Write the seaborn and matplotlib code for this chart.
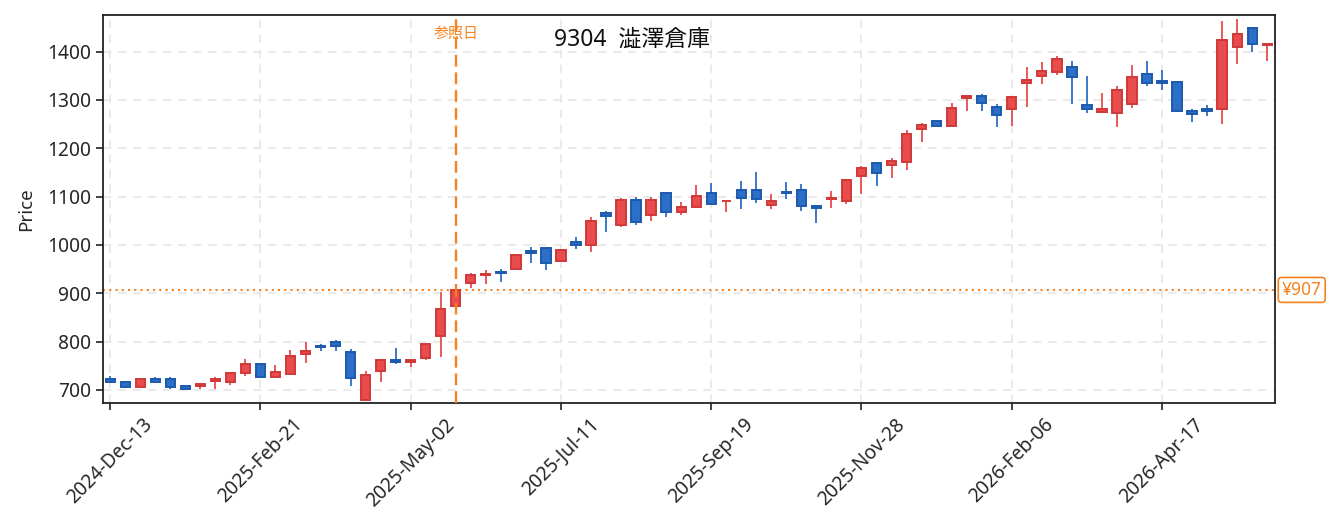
import numpy as np
import pandas as pd
import matplotlib
matplotlib.use("Agg")
import matplotlib.pyplot as plt
import matplotlib.transforms as mtransforms
import seaborn as sns

sns.set_style("ticks")
plt.rcParams['font.family'] = ['Noto Sans', 'Noto Sans CJK JP', 'DejaVu Sans']

# weekly candles, starting 2024-12-13
start_date = "2024-12-13"
opens = [723.5, 717, 706, 723, 723, 709, 708, 719, 717, 735,
         753, 726, 733, 774.5, 790, 800, 779, 679, 739, 763,
         757, 766, 811, 874, 921, 937.5, 944, 950, 987, 993,
         966, 1005.5, 1000, 1065.5, 1040.5, 1092, 1062, 1108, 1069, 1079,
         1108, 1090, 1114.5, 1114.5, 1083, 1110, 1114.5, 1080.5, 1095, 1090,
         1143, 1170, 1165, 1171, 1239, 1257, 1245.5, 1303.5, 1309, 1286,
         1281, 1334.5, 1350, 1357, 1369, 1290, 1274.5, 1272.5, 1291, 1354.5,
         1340, 1338, 1278, 1282, 1281.5, 1409, 1449.5, 1414]
highs = [728, 717, 723, 727, 727, 709, 713, 727, 736, 764,
         753, 752, 783, 799, 794.5, 803.5, 784, 739, 763, 786,
         764, 795, 902, 919, 941, 948, 950, 980, 996, 993,
         991, 1016.5, 1057, 1070, 1096.5, 1098.5, 1098.5, 1108, 1088, 1124,
         1128, 1091.5, 1132, 1150, 1105.5, 1129.5, 1126, 1080.5, 1112, 1135,
         1163.5, 1170, 1180, 1238, 1252.5, 1257, 1294, 1309, 1312.5, 1291,
         1307, 1367.5, 1378, 1391, 1380.5, 1350, 1314.5, 1329, 1372.5, 1380.5,
         1362, 1338, 1280.5, 1289, 1463.5, 1467.5, 1449.5, 1416.5]
lows = [716.5, 706, 706, 717, 703, 701, 701, 703, 710, 728,
        727, 726, 733, 756.5, 781, 781, 709, 679, 717, 754,
        748, 761, 768, 874, 910, 919, 924, 948, 963, 949,
        966, 992, 986, 1027.5, 1038, 1042, 1050, 1057, 1063, 1079,
        1085, 1069, 1075, 1087.5, 1075, 1096, 1071, 1046, 1076.5, 1084,
        1105.5, 1123, 1139, 1156, 1212, 1246, 1245.5, 1278, 1278, 1245,
        1247, 1286, 1332.5, 1351, 1292.5, 1274, 1274.5, 1245, 1284, 1329.5,
        1320.5, 1277, 1254, 1267.5, 1251, 1375, 1400, 1381]
closes = [716.5, 706, 723, 717, 706, 701, 713, 722, 736, 754,
          727, 738, 771, 781, 789, 791, 725, 732, 763, 757,
          763, 795, 868, 907, 937, 940, 942, 980, 983, 963,
          989, 999, 1050, 1059, 1092, 1047, 1094, 1069, 1079, 1102,
          1085, 1091.5, 1096.5, 1094.5, 1090, 1107.5, 1080, 1076.5, 1098, 1135,
          1158.5, 1148, 1173, 1230, 1249, 1246, 1283, 1309, 1293, 1269,
          1307, 1342, 1359, 1385.5, 1347.5, 1281, 1281.5, 1321, 1347, 1335,
          1335, 1277, 1271, 1276.5, 1425, 1437, 1415, 1416.5]

ref_index = 23
ref_price = 907
title = "9304  澁澤倉庫"

df = pd.DataFrame({"open": opens, "high": highs, "low": lows, "close": closes})
df["date"] = pd.date_range(start_date, periods=len(df), freq="7D")
df["pos"] = np.arange(len(df))
df["up"] = df["close"] >= df["open"]

up_fill, up_edge = "#e84c4c", "#d13838"
dn_fill, dn_edge = "#2b6fc6", "#1d59ad"

fig, ax = plt.subplots(figsize=(13.39, 5.31), dpi=100)
fig.subplots_adjust(left=0.077, right=0.952, top=0.972, bottom=0.241)

ax.grid(True, linestyle=(0, (5, 4)), color="#e6e6e6", linewidth=1.2, zorder=0)
ax.set_axisbelow(True)

# wicks + bodies
for up, fill, edge in [(True, up_fill, up_edge), (False, dn_fill, dn_edge)]:
    sub = df[df["up"] == up]
    ax.vlines(sub["pos"], sub["low"], sub["high"], color=fill, linewidth=1.3, zorder=2)
    bottom = sub[["open", "close"]].min(axis=1)
    height = (sub["close"] - sub["open"]).abs().clip(lower=1.5)
    ax.bar(sub["pos"], height, bottom=bottom, width=0.62, color=fill,
           edgecolor=edge, linewidth=1.4, zorder=3)

# reference markers
orange = "#f58220"
ax.axvline(ref_index, color=orange, linestyle=(0, (5, 2.5)), linewidth=1.7, zorder=4)
ax.axhline(ref_price, color=orange, linestyle=(0, (1, 2)), linewidth=1.5, zorder=1)
trans = mtransforms.blended_transform_factory(ax.transData, ax.transAxes)
ax.text(ref_index, 0.951, "参照日", transform=trans, ha="center", va="center",
        color=orange, fontsize=10.8)
trans2 = mtransforms.blended_transform_factory(ax.transAxes, ax.transData)
ax.text(1.006, ref_price, f"¥{ref_price}", transform=trans2, ha="left", va="center",
        color=orange, fontsize=12.5,
        bbox=dict(boxstyle="round,pad=0.2", facecolor="white", edgecolor=orange, linewidth=1.2))
ax.text(0.4514, 0.936, title, transform=ax.transAxes, ha="center", va="center",
        fontsize=16.5, color="#111111")

ticks = df["pos"][::10]
ax.set_xticks(ticks)
ax.set_xticklabels(df["date"][::10].dt.strftime("%Y-%b-%d"), rotation=45, ha="center")
ax.set_yticks(range(700, 1401, 100))
ax.set_xlim(-0.47, len(df) - 0.5)
ax.set_ylim(673, 1476)
ax.set_ylabel("Price", fontsize=13.5, labelpad=9)
ax.tick_params(labelsize=13.8, length=5, width=1.2, color="#222222")
for s in ax.spines.values():
    s.set_color("#222222")
    s.set_linewidth(1.3)

fig.savefig("out.png", dpi=100)
